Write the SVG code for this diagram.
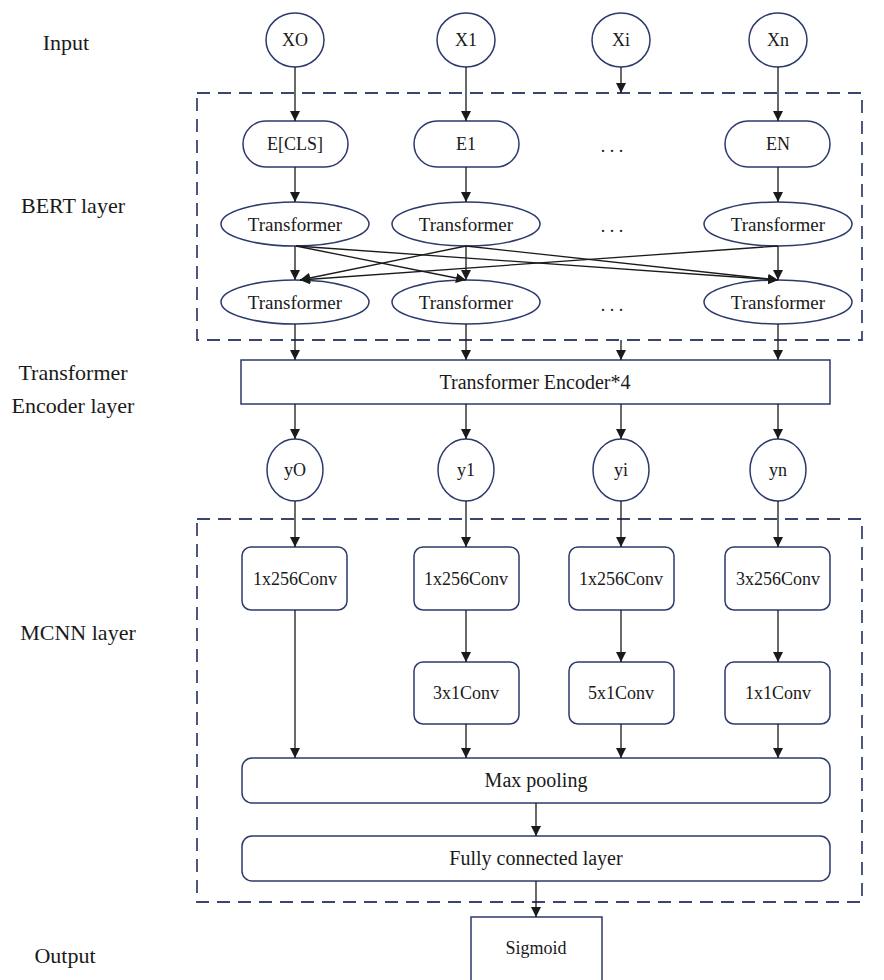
<svg xmlns="http://www.w3.org/2000/svg" width="884" height="980" viewBox="0 0 884 980">
<defs>
<marker id="ah" viewBox="0 0 10 10" refX="10" refY="5" markerWidth="10" markerHeight="10" markerUnits="userSpaceOnUse" orient="auto">
<path d="M0,0 L10,5 L0,10 z" fill="#1a1a1a"/>
</marker>
<style>
.n{fill:#fff;stroke:#2c3a6e;stroke-width:1.5}
.d{fill:none;stroke:#3a4572;stroke-width:1.8;stroke-dasharray:13,8}
.c{fill:none;stroke:#1a1a1a;stroke-width:1.3;marker-end:url(#ah)}
text{font-family:"Liberation Serif","Times New Roman",serif;fill:#1a1a1a;text-anchor:middle;dominant-baseline:central}
.t{font-size:18px}
.tr{font-size:19px}
.b{font-size:20px}
.g{font-size:22px}
</style>
</defs>
<rect width="884" height="980" fill="#fff"/>
<g id="labels">
<text class="g" x="66" y="42">Input</text>
<text class="g" x="73" y="205">BERT layer</text>
<text class="g" x="73" y="372">Transformer</text>
<text class="g" x="73" y="405">Encoder layer</text>
<text class="g" x="78" y="632">MCNN layer</text>
<text class="g" x="65" y="955">Output</text>
</g>
<g id="bert-box"><rect class="d" x="197" y="93" width="665" height="247"/></g>
<g id="mcnn-box"><rect class="d" x="197" y="519" width="665" height="383"/></g>
<g id="x0"><ellipse class="n" cx="295" cy="40" rx="29" ry="27"/><text class="t" x="295" y="40">XO</text></g>
<g id="x1"><ellipse class="n" cx="466" cy="40" rx="29" ry="27"/><text class="t" x="466" y="40">X1</text></g>
<g id="xi"><ellipse class="n" cx="621" cy="40" rx="29" ry="27"/><text class="t" x="621" y="40">Xi</text></g>
<g id="xn"><ellipse class="n" cx="778" cy="40" rx="29" ry="27"/><text class="t" x="778" y="40">Xn</text></g>
<g id="ecls"><rect class="n" x="243" y="121" width="105" height="46" rx="23"/><text class="t" x="295" y="144">E[CLS]</text></g>
<g id="e1"><rect class="n" x="414" y="121" width="105" height="46" rx="23"/><text class="t" x="466" y="144">E1</text></g>
<g id="edots"><text class="t" x="612" y="146">. . .</text></g>
<g id="en"><rect class="n" x="725" y="121" width="105" height="46" rx="23"/><text class="t" x="778" y="144">EN</text></g>
<g id="t1a"><ellipse class="n" cx="295" cy="224" rx="74" ry="22"/><text class="tr" x="295" y="224">Transformer</text></g>
<g id="t1b"><ellipse class="n" cx="466" cy="224" rx="74" ry="22"/><text class="tr" x="466" y="224">Transformer</text></g>
<g id="t1dots"><text class="t" x="612" y="226">. . .</text></g>
<g id="t1n"><ellipse class="n" cx="778" cy="224" rx="74" ry="22"/><text class="tr" x="778" y="224">Transformer</text></g>
<g id="t2a"><ellipse class="n" cx="295" cy="302" rx="74" ry="22"/><text class="tr" x="295" y="302">Transformer</text></g>
<g id="t2b"><ellipse class="n" cx="466" cy="302" rx="74" ry="22"/><text class="tr" x="466" y="302">Transformer</text></g>
<g id="t2dots"><text class="t" x="612" y="305">. . .</text></g>
<g id="t2n"><ellipse class="n" cx="778" cy="302" rx="74" ry="22"/><text class="tr" x="778" y="302">Transformer</text></g>
<g id="encoder"><rect class="n" x="241" y="360" width="589" height="44"/><text class="b" x="535" y="382">Transformer Encoder*4</text></g>
<g id="y0"><ellipse class="n" cx="295" cy="470" rx="28" ry="31"/><text class="t" x="295" y="470">yO</text></g>
<g id="y1"><ellipse class="n" cx="466" cy="470" rx="28" ry="31"/><text class="t" x="466" y="470">y1</text></g>
<g id="yi"><ellipse class="n" cx="621" cy="470" rx="28" ry="31"/><text class="t" x="621" y="470">yi</text></g>
<g id="yn"><ellipse class="n" cx="778" cy="470" rx="28" ry="31"/><text class="t" x="778" y="470">yn</text></g>
<g id="c1a"><rect class="n" x="242" y="547" width="105" height="63" rx="9"/><text class="t" x="295" y="579">1x256Conv</text></g>
<g id="c1b"><rect class="n" x="414" y="547" width="105" height="63" rx="9"/><text class="t" x="466" y="579">1x256Conv</text></g>
<g id="c1c"><rect class="n" x="569" y="547" width="105" height="63" rx="9"/><text class="t" x="621" y="579">1x256Conv</text></g>
<g id="c1d"><rect class="n" x="725" y="547" width="105" height="63" rx="9"/><text class="t" x="778" y="579">3x256Conv</text></g>
<g id="c2b"><rect class="n" x="414" y="662" width="105" height="62" rx="9"/><text class="t" x="466" y="693">3x1Conv</text></g>
<g id="c2c"><rect class="n" x="569" y="662" width="105" height="62" rx="9"/><text class="t" x="621" y="693">5x1Conv</text></g>
<g id="c2d"><rect class="n" x="725" y="662" width="105" height="62" rx="9"/><text class="t" x="778" y="693">1x1Conv</text></g>
<g id="maxpool"><rect class="n" x="242" y="758" width="588" height="45" rx="10"/><text class="b" x="536" y="780">Max pooling</text></g>
<g id="fc"><rect class="n" x="242" y="836" width="588" height="45" rx="10"/><text class="b" x="536" y="858">Fully connected layer</text></g>
<g id="sigmoid"><rect class="n" x="471" y="917" width="131" height="70"/><text class="t" x="536" y="948">Sigmoid</text></g>
<g id="connectors">
<line class="c" x1="295" y1="67" x2="295" y2="121"/>
<line class="c" x1="466" y1="67" x2="466" y2="121"/>
<line class="c" x1="621" y1="67" x2="621" y2="93"/>
<line class="c" x1="778" y1="67" x2="778" y2="121"/>
<line class="c" x1="295" y1="167" x2="295" y2="202"/>
<line class="c" x1="466" y1="167" x2="466" y2="202"/>
<line class="c" x1="778" y1="167" x2="778" y2="202"/>
<line class="c" x1="295" y1="246" x2="295" y2="280"/>
<line class="c" x1="296" y1="246" x2="466" y2="280"/>
<line class="c" x1="296" y1="246" x2="778" y2="280"/>
<line class="c" x1="466" y1="246" x2="300" y2="280"/>
<line class="c" x1="466" y1="246" x2="466" y2="280"/>
<line class="c" x1="466" y1="246" x2="778" y2="280"/>
<line class="c" x1="778" y1="246" x2="300" y2="280"/>
<line class="c" x1="778" y1="246" x2="778" y2="280"/>
<line class="c" x1="295" y1="324" x2="295" y2="360"/>
<line class="c" x1="466" y1="324" x2="466" y2="360"/>
<line class="c" x1="621" y1="340" x2="621" y2="360"/>
<line class="c" x1="778" y1="324" x2="778" y2="360"/>
<line class="c" x1="295" y1="404" x2="295" y2="439"/>
<line class="c" x1="466" y1="404" x2="466" y2="439"/>
<line class="c" x1="621" y1="404" x2="621" y2="439"/>
<line class="c" x1="778" y1="404" x2="778" y2="439"/>
<line class="c" x1="295" y1="501" x2="295" y2="547"/>
<line class="c" x1="466" y1="501" x2="466" y2="547"/>
<line class="c" x1="621" y1="501" x2="621" y2="547"/>
<line class="c" x1="778" y1="501" x2="778" y2="547"/>
<line class="c" x1="466" y1="610" x2="466" y2="662"/>
<line class="c" x1="621" y1="610" x2="621" y2="662"/>
<line class="c" x1="778" y1="610" x2="778" y2="662"/>
<line class="c" x1="295" y1="610" x2="295" y2="758"/>
<line class="c" x1="466" y1="724" x2="466" y2="758"/>
<line class="c" x1="621" y1="724" x2="621" y2="758"/>
<line class="c" x1="778" y1="724" x2="778" y2="758"/>
<line class="c" x1="536" y1="803" x2="536" y2="836"/>
<line class="c" x1="536" y1="881" x2="536" y2="917"/>
</g>
</svg>
